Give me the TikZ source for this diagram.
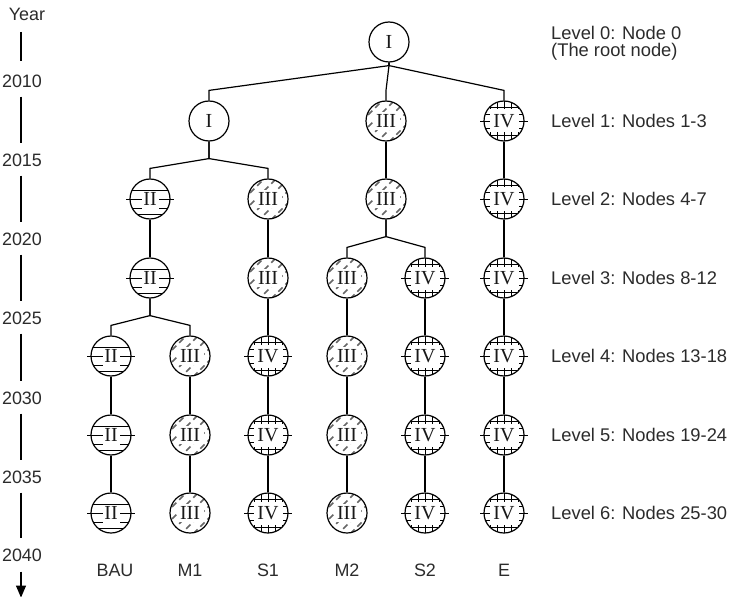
\documentclass[tikz,border=0pt]{standalone}
\usepackage{fontspec}
\setmainfont{Liberation Serif}
\newfontfamily\labelsans{Liberation Sans}
\usetikzlibrary{arrows.meta,calc}

\definecolor{txt}{HTML}{2B2B2B}

\tikzset{
  base/.style={circle, draw=black, line width=1.2bp, minimum size=40bp,
    inner sep=0pt, fill=white},
  plainnode/.style={base},
  % horizontal bars
  hbarnode/.style={base, path picture={
    \begin{scope}[shift={(path picture bounding box.center)}, x=1bp, y=1bp, line width=0.9bp]
      \foreach \h in {9,0,-9,-15} {\draw (-25,\h) -- (25,\h);}
    \end{scope}}},
  % grey dashed diagonal hatching
  hatchnode/.style={base, path picture={
    \begin{scope}[shift={(path picture bounding box.center)}, x=1bp, y=1bp]
      \foreach \c in {-48,-36,...,48} {
        \draw[black!60, line width=1.6bp, dash pattern=on 6bp off 4bp] (-25,-25+\c) -- (25,25+\c);}
    \end{scope}}},
  % square grid
  gridnode/.style={base, path picture={
    \begin{scope}[shift={(path picture bounding box.center)}, x=1bp, y=1bp, line width=0.9bp]
      \foreach \v in {-14,-7,0,7,14} {
        \draw (\v,-25) -- (\v,25);
        \draw (-25,\v) -- (25,\v);
      }
    \end{scope}}},
  numeral/.style={inner sep=0pt, text=black!90, font=\fontsize{20}{20}\selectfont},
  conn/.style={draw=black, line width=1.2bp},
  tick/.style={draw=black, line width=0.9bp},
  sidelabel/.style={anchor=west, text=txt, inner sep=0pt, font=\labelsans\fontsize{18.4}{21}\selectfont},
  axislabel/.style={text=txt, inner sep=0pt, font=\labelsans\fontsize{18}{21}\selectfont},
}

% white panels that keep the numerals clear of the fill patterns
\newcommand\boxplain[1]{}
\newcommand\boxhbar[1]{\fill[white] ([shift={(-8.5,-7)}]#1.center) rectangle ([shift={(8.5,10)}]#1.center);}
\newcommand\boxhatch[1]{\fill[white] ([shift={(-13.5,-9)}]#1.center) rectangle ([shift={(13.5,9)}]#1.center);}
\newcommand\boxgrid[1]{\fill[white] ([shift={(-14.5,-11.5)}]#1.center) rectangle ([shift={(14.5,11.5)}]#1.center);}

% name, kind, x, y, numeral
\newcommand\placenode[5]{%
  \node[#2node] (#1) at (#3,#4) {};
  \csname box#2\endcsname{#1}
  \node[numeral] (#1t) at (#1.center) {#5};}

% parent -> child through a junction below the parent and a knee above the child
\newcommand\branch[3]{%
  \draw[conn] (#1.south) -- ($(#1.south)+(0,#3)$) -- ($(#2.north)+(0,-10)$) -- (#2.north);}
\newcommand\straight[2]{\draw[conn] (#1.south) -- (#2.north);}

\begin{document}
\begin{tikzpicture}[x=1bp, y=-1bp]
\useasboundingbox (0,0) rectangle (734,597);

% ---- Level 0
\placenode{n0}{plain}{389}{42}{I}
% ---- Level 1
\placenode{a1}{plain}{209}{121}{I}
\placenode{a2}{hatch}{386}{121}{III}
\placenode{a3}{grid}{504}{121}{IV}
% ---- Level 2
\placenode{b1}{hbar}{150}{199}{II}
\placenode{b2}{hatch}{268}{199}{III}
\placenode{b3}{hatch}{386}{199}{III}
\placenode{b4}{grid}{504}{199}{IV}
% ---- Level 3
\placenode{c1}{hbar}{150}{278}{II}
\placenode{c2}{hatch}{268}{278}{III}
\placenode{c3}{hatch}{347}{278}{III}
\placenode{c4}{grid}{425}{278}{IV}
\placenode{c5}{grid}{504}{278}{IV}
% ---- Levels 4 to 6
\foreach \lv/\yy in {d/356, e/435, f/513} {
  \placenode{\lv1}{hbar}{111}{\yy}{II}
  \placenode{\lv2}{hatch}{190}{\yy}{III}
  \placenode{\lv3}{grid}{268}{\yy}{IV}
  \placenode{\lv4}{hatch}{347}{\yy}{III}
  \placenode{\lv5}{grid}{425}{\yy}{IV}
  \placenode{\lv6}{grid}{504}{\yy}{IV}
}

% short bars sticking out on both sides of the barred and gridded nodes
\foreach \n in {b1,c1,d1,e1,f1,a3,b4,c4,c5,d3,d5,d6,e3,e5,e6,f3,f5,f6} {
  \draw[tick] ([xshift=-3bp]\n.west) -- ([xshift=6bp]\n.west);
  \draw[tick] ([xshift=3bp]\n.east) -- ([xshift=-6bp]\n.east);
}

% ---- Connectors
\branch{n0}{a1}{3} \branch{n0}{a2}{3} \branch{n0}{a3}{3}
\branch{a1}{b1}{17} \branch{a1}{b2}{17}
\straight{a2}{b3} \straight{a3}{b4}
\straight{b1}{c1} \straight{b2}{c2}
\branch{b3}{c3}{17} \branch{b3}{c4}{17}
\straight{b4}{c5}
\branch{c1}{d1}{17} \branch{c1}{d2}{17}
\straight{c2}{d3} \straight{c3}{d4} \straight{c4}{d5} \straight{c5}{d6}
\foreach \i in {1,...,6} {
  \straight{d\i}{e\i}
  \straight{e\i}{f\i}
}

% ---- Level descriptions
\node[sidelabel] (l0a) at (551,33) {Level 0: Node 0};
\node[sidelabel] (l0b) at (551,52) {(The root node)};
\node[sidelabel] (l1) at (551,121) {Level 1: Nodes 1-3};
\node[sidelabel] (l2) at (551,199) {Level 2: Nodes 4-7};
\node[sidelabel] (l3) at (551,278) {Level 3: Nodes 8-12};
\node[sidelabel] (l4) at (551,356) {Level 4: Nodes 13-18};
\node[sidelabel] (l5) at (551,435) {Level 5: Nodes 19-24};
\node[sidelabel] (l6) at (551,513) {Level 6: Nodes 25-30};

% ---- Scenario names
\foreach \nm/\xx in {BAU/115, M1/190, S1/268, M2/347, S2/425, E/504}
  \node[axislabel] (s\nm) at (\xx,570) {\nm};

% ---- Time axis
\node[axislabel] (yr) at (27,14) {Year};
\foreach \yv/\yy in {2010/81, 2015/160, 2020/239, 2025/318, 2030/398, 2035/477, 2040/555}
  \node[axislabel] (y\yv) at (22,\yy) {\yv};
\draw[conn] (21,32) coordinate (t0) -- (21,61) coordinate (t1);
\foreach \a/\b in {2010/2015, 2015/2020, 2020/2025, 2025/2030, 2030/2035, 2035/2040}
  \draw[conn] ($(y\a.south)+(-1,9)$) -- ($(y\b.north)+(-1,-10)$);
\draw[conn, -{Triangle[length=12bp, width=10bp]}] ($(y2040.south)+(-1,10)$) -- ($(y2040.south)+(-1,36)$);
\end{tikzpicture}
\end{document}
